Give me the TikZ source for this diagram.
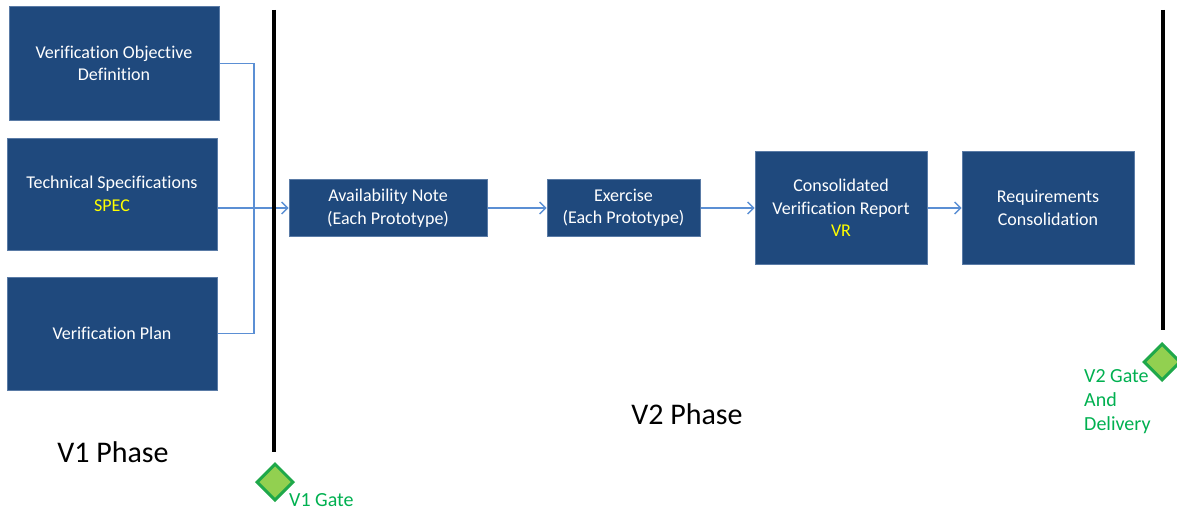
\documentclass[tikz,border=0pt]{standalone}
\usepackage{fontspec}
\setmainfont{Carlito}[Ligatures=CommonOff]
\usetikzlibrary{arrows.meta,shapes.geometric}
\definecolor{boxfill}{HTML}{1F497D}
\definecolor{boxline}{HTML}{5A7BA6}
\definecolor{flow}{HTML}{5B8FD4}
\definecolor{gatefill}{HTML}{92D050}
\definecolor{gateline}{HTML}{1FA84A}
\definecolor{gatetext}{HTML}{00B050}
\definecolor{tag}{HTML}{FFFF00}
\tikzset{
  stepbox/.style={draw=boxline, line width=1pt, fill=boxfill, text=white,
    inner sep=0pt, align=center, font=\fontsize{18}{22.5}\selectfont},
  flowline/.style={draw=flow, line width=1.5pt},
  flowarrow/.style={flowline, -{Straight Barb[length=6pt,width=12pt,line width=1.3pt]}},
  gateline/.style={line width=4pt, black},
  gate/.style={diamond, draw=gateline, fill=gatefill, line width=3pt,
    minimum size=37pt, inner sep=0pt},
  gatelabel/.style={text=gatetext, font=\fontsize{20}{24}\selectfont, inner sep=0pt},
  phase/.style={font=\fontsize{30}{34}\selectfont, inner sep=0pt}
}
\begin{document}
\begin{tikzpicture}[x=1pt,y=-1pt]
\useasboundingbox (0,0) rectangle (1177,511);

% V1 inputs
\node[stepbox, minimum width=210pt, minimum height=113pt] (vod) at (114,63.5)
  {Verification Objective\\Definition};
\node[stepbox, minimum width=210pt, minimum height=112pt] (ts) at (112,194)
  {Technical Specifications\\\textcolor{tag}{SPEC}};
\node[stepbox, minimum width=210pt, minimum height=113pt] (vp) at (112,333.5)
  {Verification Plan};

% V2 chain
\node[stepbox, minimum width=198pt, minimum height=57pt] (an) at (388,208)
  {Availability Note\\(Each Prototype)};
\node[stepbox, minimum width=153pt, minimum height=57pt] (ex) at (623.5,208)
  {Exercise\\(Each Prototype)};
\node[stepbox, minimum width=172pt, minimum height=113pt] (cvr) at (841,208)
  {Consolidated\\Verification Report\\\textcolor{tag}{VR}};
\node[stepbox, minimum width=172pt, minimum height=113pt] (rc) at (1048,208)
  {Requirements\\Consolidation};

% merging connectors
\coordinate (jn) at (254,208);
\draw[flowline] (vod.east) -| (jn);
\draw[flowline] (vp.east) -| (jn);
\draw[flowarrow] (ts.east |- an.west) -- (an.west);
\draw[flowarrow] (an.east) -- (ex.west);
\draw[flowarrow] (ex.east) -- (cvr.west);
\draw[flowarrow] (cvr.east) -- (rc.west);

% phase gates
\coordinate (g1top) at (274,10);
\coordinate (g1bot) at (274,452);
\draw[gateline] (g1top) -- (g1bot);
\coordinate (g2top) at (1163,10);
\coordinate (g2bot) at (1163,330);
\draw[gateline] (g2top) -- (g2bot);

\node[gate] (gate1) at (275,482) {};
\node[gatelabel, anchor=west] (gate1txt) at (289,500) {V1 Gate};
\node[gate] (gate2) at (1162,362) {};
\node[gatelabel, anchor=north west, align=left] (gate2txt) at (1084,369)
  {V2 Gate\\And\\Delivery};

% phase labels
\node[phase] (ph1) at (113,452) {V1 Phase};
\node[phase] (ph2) at (687,414) {V2 Phase};
\end{tikzpicture}
\end{document}
